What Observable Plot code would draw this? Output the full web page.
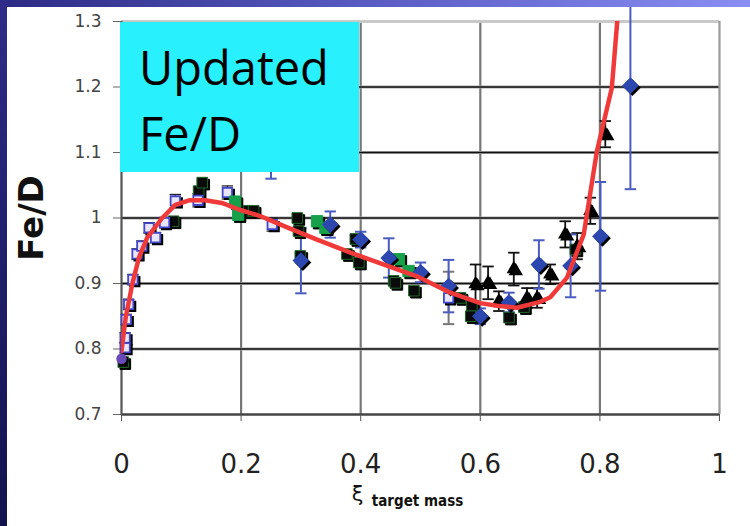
<!DOCTYPE html>
<html>
<head>
<meta charset="utf-8">
<script src="https://cdn.jsdelivr.net/npm/d3@7"></script>
<script src="https://cdn.jsdelivr.net/npm/@observablehq/plot@0.6"></script>
<style>
  html, body { margin: 0; padding: 0; background: #fff; }
  #wrap { position: relative; width: 750px; height: 526px; overflow: hidden; }
  #topbar { position: absolute; left: 0; top: 0; width: 750px; height: 7px;
    background: linear-gradient(to right, #2c2a84, #5a5cc4 50%, #8a8ef2); }
  #leftbar { position: absolute; left: 0; top: 0; width: 7px; height: 526px;
    background: linear-gradient(to bottom, #2e2c88, #12124e); }
  #note { position: absolute; left: 120px; top: 22px; width: 239px; height: 150px;
    background: #28f0fc; font-family: "Open Sans", sans-serif; font-size: 47px;
    line-height: 66px; color: #000; padding: 12px 0 0 19px; box-sizing: border-box; }
  #note div { margin: 0; }
</style>
</head>
<body>
<div id="wrap">
  <div id="chart"></div>
  <div id="note"><div>Updated</div><div>Fe/D</div></div>
  <div id="topbar"></div>
  <div id="leftbar"></div>
</div>
<script>
// Axis ticks
const xTicks = [0, 0.2, 0.4, 0.6, 0.8, 1];
const yTicks = [0.7, 0.8, 0.9, 1, 1.1, 1.2, 1.3];

// Open squares (with small error bars)
const sqX   = [0.006, 0.006, 0.008, 0.012, 0.019, 0.026, 0.034, 0.046, 0.057, 0.072, 0.09, 0.128, 0.177, 0.252, 0.547];
const sqY   = [0.802, 0.817, 0.845, 0.868, 0.906, 0.945, 0.957, 0.985, 0.970, 0.993, 1.026, 1.027, 1.039, 0.990, 0.878];
const sqErr = [0.008, 0.008, 0.008, 0.008, 0.008, 0.008, 0.008, 0.008, 0.008, 0.008, 0.010, 0.010, 0.010, 0.010, 0.040];

// Dark filled squares
const bkX = [0.003, 0.087, 0.129, 0.135, 0.213, 0.221, 0.294, 0.296, 0.299, 0.377, 0.391, 0.397, 0.455, 0.458, 0.489, 0.567, 0.586, 0.584, 0.648, 0.673, 0.759];
const bkY = [0.780, 0.995, 1.041, 1.054, 1.011, 1.011, 1.000, 0.980, 0.942, 0.945, 0.968, 0.932, 0.904, 0.901, 0.889, 0.878, 0.866, 0.850, 0.848, 0.864, 0.952];

// Green squares
const grX = [0.190, 0.195, 0.327, 0.341, 0.464, 0.480];
const grY = [1.025, 1.005, 0.995, 0.985, 0.937, 0.919];

// Blue diamonds with error bars
const dmX   = [0.25, 0.30, 0.349, 0.40, 0.447, 0.50, 0.547, 0.60, 0.648, 0.698, 0.751, 0.801, 0.851];
const dmY   = [1.13, 0.935, 0.990, 0.967, 0.939, 0.917, 0.896, 0.850, 0.871, 0.929, 0.927, 0.972, 1.202];
const dmErr = [0.07, 0.05, 0.020, 0.012, 0.030, 0.015, 0.040, 0.012, 0.015, 0.037, 0.048, 0.083, 0.158];

// Triangles with error bars
const trX   = [0.592, 0.613, 0.631, 0.656, 0.678, 0.695, 0.717, 0.742, 0.762, 0.784, 0.809];
const trY   = [0.899, 0.901, 0.873, 0.922, 0.878, 0.878, 0.914, 0.975, 0.957, 1.011, 1.128];
const trErr = [0.030, 0.025, 0.015, 0.025, 0.015, 0.015, 0.015, 0.020, 0.020, 0.020, 0.020];

// Single point at zero
const ptX = [0];
const ptY = [0.785];

// Fitted curve
const fitX = [0, 0.007, 0.018, 0.029, 0.043, 0.068, 0.09, 0.113, 0.14, 0.168, 0.196, 0.232, 0.271, 0.327, 0.383, 0.439, 0.494, 0.55, 0.6, 0.628, 0.661, 0.7, 0.717, 0.745, 0.773, 0.795, 0.82, 0.829];
const fitY = [0.797, 0.848, 0.899, 0.939, 0.970, 1.000, 1.020, 1.027, 1.027, 1.023, 1.013, 1.003, 0.988, 0.967, 0.947, 0.929, 0.911, 0.886, 0.870, 0.866, 0.863, 0.872, 0.879, 0.909, 0.975, 1.102, 1.199, 1.300];

const rows = (xs, ys, es) => xs.map((x, i) => ({x, y: ys[i], e: es ? es[i] : 0}));
const sq = rows(sqX, sqY, sqErr);
const bk = rows(bkX, bkY);
const gr = rows(grX, grY);
const dm = rows(dmX, dmY, dmErr);
const tr = rows(trX, trY, trErr);
const pt = rows(ptX, ptY);
const fit = rows(fitX, fitY);

// Horizontal cap symbol for error bars
const cap = {draw(ctx, size) { const w = Math.sqrt(size); ctx.moveTo(-w, 0); ctx.lineTo(w, 0); }};

function errorBars(data, color, width) {
  const lo = data.map(d => ({x: d.x, y: d.y - d.e}));
  const hi = data.map(d => ({x: d.x, y: d.y + d.e}));
  return [
    Plot.ruleX(data, {x: "x", y1: d => d.y - d.e, y2: d => d.y + d.e, stroke: color, strokeWidth: width}),
    Plot.dot(lo.concat(hi), {x: "x", y: "y", symbol: cap, r: 3.2, stroke: color, strokeWidth: width, fill: "none"})
  ];
}

function shadowed(data, opts) {
  return [
    Plot.dot(data, {...opts, dx: 2, dy: 2, fill: "#000", stroke: "#000"}),
    Plot.dot(data, opts)
  ];
}

const chart = Plot.plot({
  width: 750,
  height: 526,
  marginLeft: 121,
  marginRight: 31,
  marginTop: 21,
  marginBottom: 112,
  style: {background: "transparent", fontFamily: "DejaVu Sans, sans-serif"},
  x: {domain: [0, 1], axis: null},
  y: {domain: [0.7, 1.3], axis: null},
  marks: [
    // grid
    Plot.ruleX(xTicks.slice(1, -1), {stroke: "#777", strokeWidth: 2.2}),
    Plot.ruleY(yTicks.slice(1, -1), {stroke: "#aaa", strokeWidth: 3.2}),
    Plot.ruleY(yTicks.slice(1, -1), {stroke: "#111", strokeWidth: 1.4}),
    Plot.ruleY([1.3], {stroke: "#c9c9c9", strokeWidth: 3}),
    Plot.ruleX([1], {stroke: "#999", strokeWidth: 2.2}),
    Plot.ruleY([0.7], {stroke: "#444", strokeWidth: 2.4}),
    Plot.ruleX([0], {stroke: "#555", strokeWidth: 2.2}),
    // axes
    Plot.axisY(yTicks, {label: null, tickSize: 8, tickPadding: 12, stroke: "#666", fill: "#444", fontSize: 17,
      tickFormat: d => d === 1 ? "1" : d.toFixed(1)}),
    Plot.axisX(xTicks, {label: null, tickSize: 7, tickPadding: 33, stroke: "#555", fill: "#222", fontSize: 26,
      tickFormat: d => d === 0 || d === 1 ? String(d) : d.toFixed(1)}),
    // error bars
    ...errorBars(sq.filter(d => d.e < 0.02), "#222", 1.2),
    ...errorBars(sq.filter(d => d.e >= 0.02), "#777", 2),
    ...errorBars(tr, "#111", 1.8),
    ...errorBars(dm, "#4a5cc0", 2),
    // markers
    ...shadowed(bk, {x: "x", y: "y", symbol: "square", r: 6, fill: "#0a0a0a", stroke: "#1f6a2a", strokeWidth: 1}),
    ...shadowed(sq, {x: "x", y: "y", symbol: "square", r: 5.3, fill: "#e8e6ff", stroke: "#4246c8", strokeWidth: 1.8}),
    ...shadowed(gr, {x: "x", y: "y", symbol: "square", r: 6.4, fill: "#17a04a", stroke: "#17a04a", strokeWidth: 1}),
    ...shadowed(pt, {x: "x", y: "y", symbol: "circle", r: 4.5, fill: "#6a4ab8", stroke: "#6a4ab8"}),
    ...shadowed(tr, {x: "x", y: "y", symbol: "triangle2", r: 5.6, fill: "#000", stroke: "#000"}),
    ...shadowed(dm, {x: "x", y: "y", symbol: "diamond2", r: 6.6, fill: "#2c48b0", stroke: "#2c48b0"}),
    // fitted curve
    Plot.line(fit, {x: "x", y: "y", stroke: "#f03a3a", strokeWidth: 4.5, strokeLinejoin: "round", clip: true}),
    // axis titles
    Plot.text(["Fe/D"], {frameAnchor: "left", dx: -89, rotate: -90, textAnchor: "middle", fontSize: 34, fontWeight: "bold", fill: "#111"}),
    Plot.text(["ξ"], {frameAnchor: "bottom", textAnchor: "middle", dx: -63, dy: 86, fontSize: 21, fill: "#111"}),
    Plot.text(["target mass"], {frameAnchor: "bottom", textAnchor: "middle", dx: -3, dy: 91, fontSize: 15, fontWeight: "bold",
      fontFamily: "DejaVu Sans Condensed, sans-serif", fill: "#111"})
  ]
});
document.getElementById("chart").appendChild(chart);
</script>
</body>
</html>
